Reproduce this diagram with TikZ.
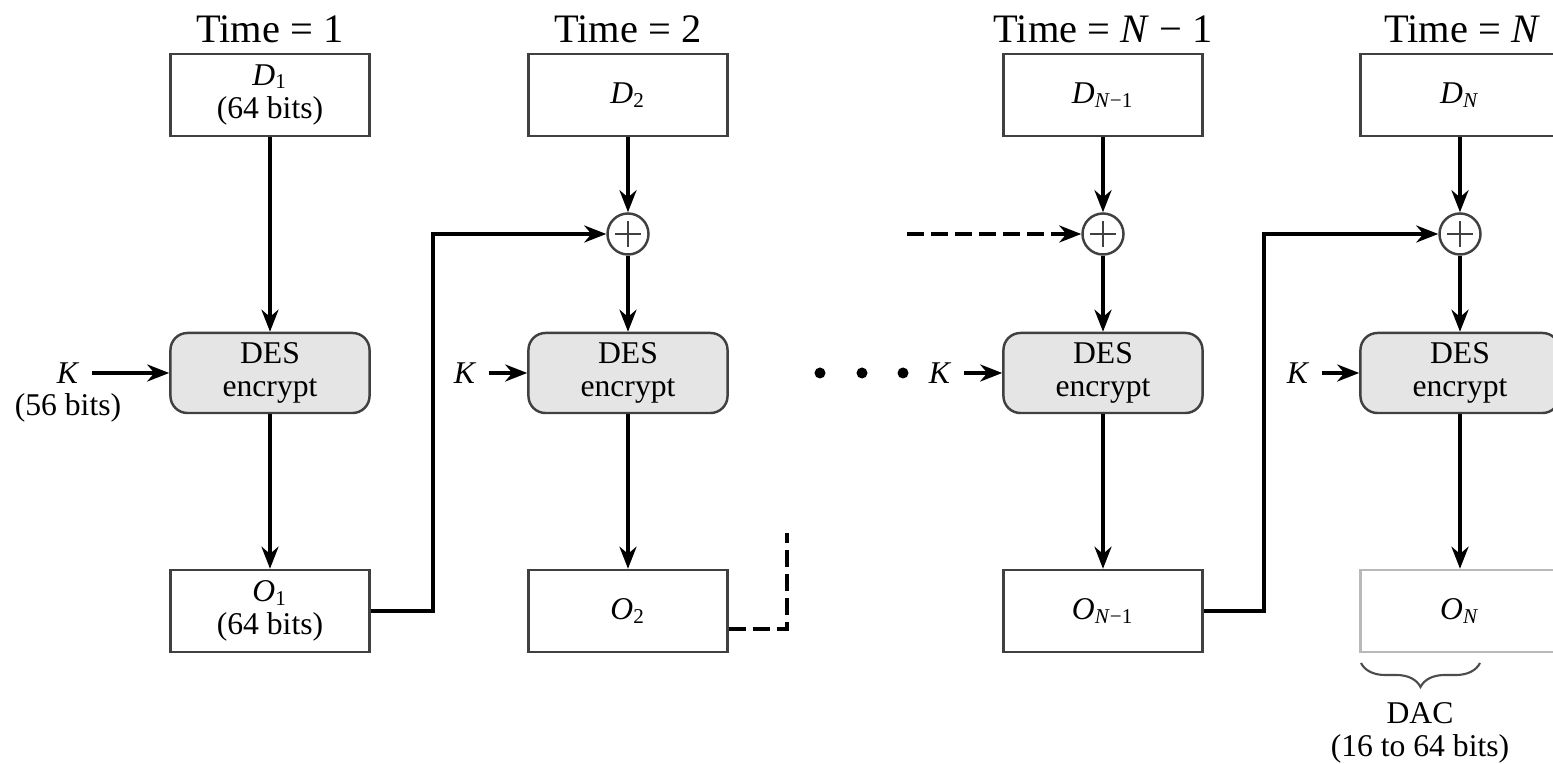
\documentclass[tikz,border=0pt]{standalone}
\usepackage{fontspec}
\setmainfont{Liberation Serif}
\usetikzlibrary{arrows.meta}
\usetikzlibrary{decorations.pathreplacing}

\newcommand{\blk}[2]{\textit{#1}\textsubscript{#2}}

\begin{document}
\begin{tikzpicture}[x=0.01cm, y=-0.01cm, >={Stealth[length=0.22cm, width=0.17cm]},
	font=\fontsize{9}{9.4}\selectfont,
	data/.style={draw=black!75, line width=0.7pt, minimum width=1.99cm, minimum height=0.82cm, align=center, inner sep=0pt},
	des/.style={data, fill=gray!20, rounded corners=0.17cm, minimum height=0.8cm},
	xor/.style={circle, draw=black!75, line width=0.7pt, minimum size=0.41cm, inner sep=0pt,
		path picture={\draw[line width=0.5pt] ([xshift=-0.13cm]path picture bounding box.center) -- ([xshift=0.13cm]path picture bounding box.center)
			([yshift=-0.13cm]path picture bounding box.center) -- ([yshift=0.13cm]path picture bounding box.center);}},
	timelbl/.style={anchor=base, font=\fontsize{11.5}{12}\selectfont},
	keylbl/.style={inner sep=0.12cm},
	flow/.style={line width=1.1pt, ->},
	dashline/.style={line width=1.1pt, dash pattern=on 0.17cm off 0.07cm}]
	\useasboundingbox (0,0) rectangle (1553,764);
	\clip (0,0) rectangle (1553,764);

	\foreach \c/\x/\t in {1/270/1, 2/628/2, 3/1103/{\textit{N} − 1}, 4/1462/\textit{N}}
		\node[timelbl] (t\c) at (\x,43) {Time = \t};

	\node[data] (d1) at (270,95) {\blk{D}{1}\\(64 bits)};
	\node[des] (e1) at (270,373) {DES\\encrypt};
	\node[data] (o1) at (270,611) {\blk{O}{1}\\(64 bits)};
	\draw[flow] (d1) -- (e1);
	\draw[flow] (e1) -- (o1);

	\foreach \c/\x/\s/\ocol in {2/628/2/black!75, 3/1103/{\textit{N}−1}/black!75, 4/1460/\textit{N}/gray!55} {
		\node[data] (d\c) at (\x,95) {\blk{D}{\s}};
		\node[xor] (x\c) at (\x,234) {};
		\node[des] (e\c) at (\x,373) {DES\\encrypt};
		\node[data, draw=\ocol] (o\c) at (\x,611) {\blk{O}{\s}};
		\draw[flow] (d\c) -- (x\c);
		\draw[flow] (x\c) -- (e\c);
		\draw[flow] (e\c) -- (o\c);
	}

	\foreach \c/\kx in {1/68, 2/465, 3/940, 4/1298} {
		\node[keylbl] (k\c) at (\kx,373) {\textit{K}};
		\draw[flow] (k\c) -- (e\c);
	}
	\node (k1bits) at (68,408) {(56 bits)};

	\draw[flow] (o1.east) -- ++(62,0) |- (x2.west);
	\draw[flow] (o3.east) -- ++(60,0) |- (x4.west);

	\coordinate (cut2) at (787,533);
	\draw[dashline] ([yshift=-0.18cm]o2.east) -| (cut2);
	\coordinate (cut3) at (907,234);
	\draw[dashline, ->] (cut3) -- (x3.west);

	\foreach \dx in {820, 862, 903}
		\fill (\dx,373) circle (0.055cm);

	\coordinate (bl) at (1361,663);
	\coordinate (br) at (1480,663);
	\draw[decorate, decoration={brace, mirror, amplitude=0.24cm}, line width=0.6pt, black!70] (bl) -- (br);
	\node[align=center] (dac) at (1420,733) {DAC\\(16 to 64 bits)};
\end{tikzpicture}
\end{document}
